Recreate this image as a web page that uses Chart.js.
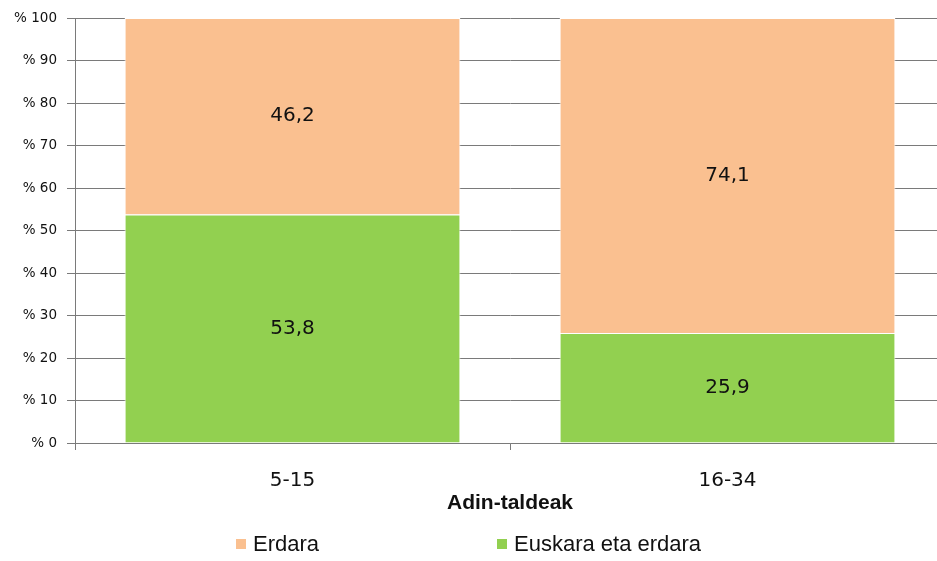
<!DOCTYPE html>
<html>
<head>
<meta charset="utf-8">
<script src="https://cdn.jsdelivr.net/npm/chart.js@4/dist/chart.umd.min.js"></script>
<style>
  html, body { margin: 0; padding: 0; background: #fff; overflow: hidden; }
  #wrap { width: 950px; height: 561px; }
</style>
</head>
<body>
<div id="wrap"><canvas id="chart" width="950" height="561"></canvas></div>
<script>
// datuak
const categories = ['5-15', '16-34'];
const seriesNames = ['Euskara eta erdara', 'Erdara'];
const euskaraEtaErdara = [53.8, 25.9];
const erdara = [46.2, 74.1];
const yTicks = [0, 10, 20, 30, 40, 50, 60, 70, 80, 90, 100];

const GREEN = '#92D050';
const ORANGE = '#FAC090';
const GRID = '#7a7a7a';
const TEXT = '#111111';

// balioak barra barruan
const valueLabels = {
    id: 'valueLabels',
    afterDatasetsDraw(chart) {
        const { ctx } = chart;
        ctx.save();
        ctx.font = '20px "DejaVu Sans"';
        ctx.fillStyle = TEXT;
        ctx.textAlign = 'center';
        ctx.textBaseline = 'middle';
        chart.data.datasets.forEach((ds, i) => {
            chart.getDatasetMeta(i).data.forEach((bar, j) => {
                const txt = ds.data[j].toFixed(1).replace('.', ',');
                ctx.fillText(txt, bar.x, (bar.y + bar.base) / 2);
            });
        });
        ctx.restore();
    }
};

// legenda eskuz (Erdara lehenengo)
const customLegend = {
    id: 'customLegend',
    afterDraw(chart) {
        const { ctx } = chart;
        const items = [
            { text: seriesNames[1], color: ORANGE, x: 236 },
            { text: seriesNames[0], color: GREEN, x: 497 }
        ];
        ctx.save();
        ctx.font = '22px "Liberation Sans"';
        ctx.textBaseline = 'middle';
        ctx.textAlign = 'left';
        items.forEach(it => {
            ctx.fillStyle = it.color;
            ctx.fillRect(it.x, 539, 10, 10);
            ctx.fillStyle = TEXT;
            ctx.fillText(it.text, it.x + 17, 545);
        });
        ctx.restore();
    }
};

new Chart(document.getElementById('chart'), {
    type: 'bar',
    data: {
        labels: categories,
        datasets: [
            {
                label: seriesNames[0],
                data: euskaraEtaErdara,
                backgroundColor: GREEN,
                borderColor: '#ffffff',
                borderWidth: 1,
                barPercentage: 0.772,
                categoryPercentage: 1
            },
            {
                label: seriesNames[1],
                data: erdara,
                backgroundColor: ORANGE,
                borderColor: '#ffffff',
                borderWidth: 1,
                barPercentage: 0.772,
                categoryPercentage: 1
            }
        ]
    },
    options: {
        responsive: false,
        animation: false,
        layout: { padding: { top: 16, right: 5, left: 0, bottom: 0 } },
        plugins: {
            legend: { display: false },
            tooltip: { enabled: false }
        },
        scales: {
            x: {
                stacked: true,
                grid: {
                    offset: true,
                    drawOnChartArea: false,
                    tickLength: 7,
                    color: GRID
                },
                border: { color: GRID, width: 1 },
                ticks: {
                    padding: 19,
                    color: TEXT,
                    font: { family: '"DejaVu Sans"', size: 20 }
                },
                title: {
                    display: true,
                    text: 'Adin-taldeak',
                    color: TEXT,
                    font: { family: '"Liberation Sans"', size: 21, weight: 'bold' },
                    padding: { top: 0, bottom: 45 }
                },
                afterFit(scale) { scale.height = 118; }
            },
            y: {
                stacked: true,
                min: 0,
                max: 100,
                afterBuildTicks(scale) { scale.ticks = yTicks.map(v => ({ value: v })); },
                grid: { color: GRID, tickLength: 8 },
                border: { color: GRID, width: 1 },
                ticks: {
                    padding: 10,
                    color: TEXT,
                    font: { family: '"DejaVu Sans"', size: 13.5 },
                    callback: v => '% ' + v
                },
                afterFit(scale) { scale.width = 75; }
            }
        }
    },
    plugins: [valueLabels, customLegend]
});
</script>
</body>
</html>
